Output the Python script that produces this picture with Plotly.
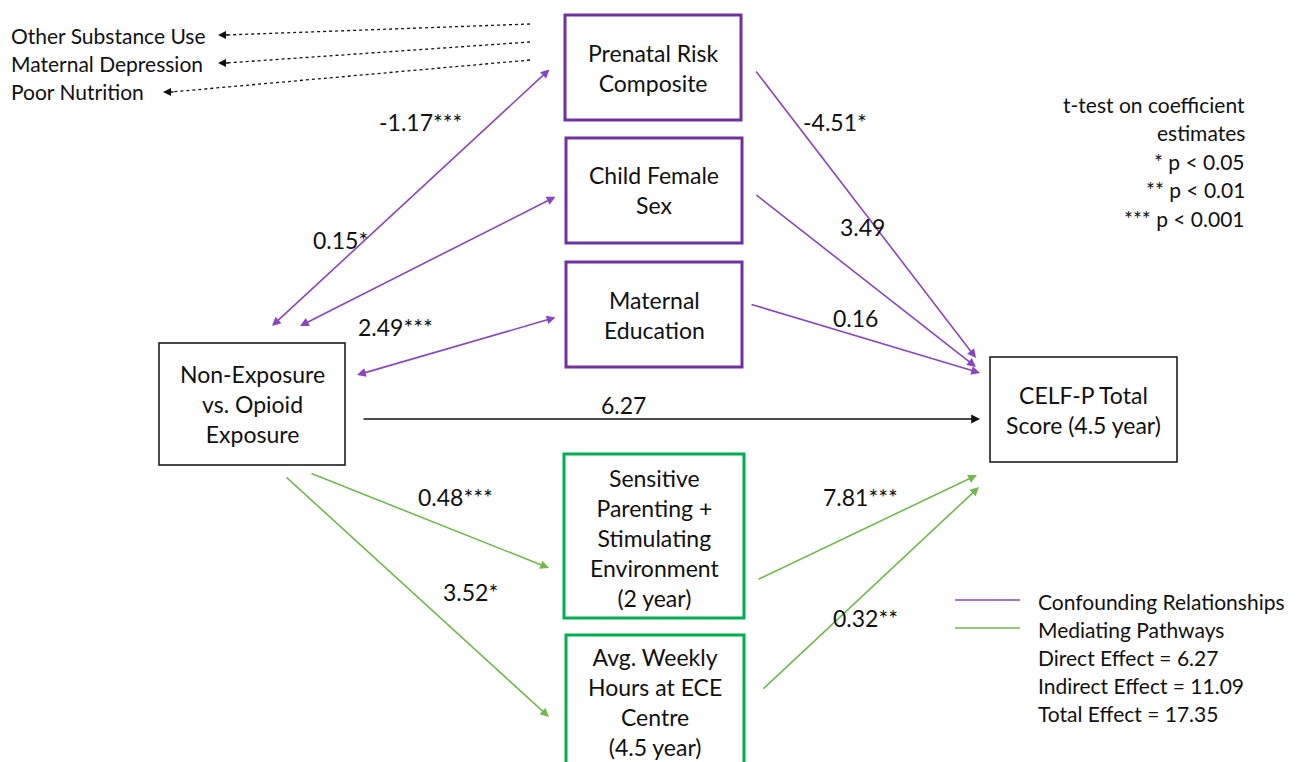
import plotly.graph_objects as go

# ---------------- data ----------------
node_names = ["exposure", "prenatal", "female", "mated", "celf", "parenting", "ece"]
node_labels = [
    "Non-Exposure<br>vs. Opioid<br>Exposure",
    "Prenatal Risk<br>Composite",
    "Child Female<br>Sex",
    "Maternal<br>Education",
    "CELF-P Total<br>Score (4.5 year)",
    "Sensitive<br>Parenting +<br>Stimulating<br>Environment<br>(2 year)",
    "Avg. Weekly<br>Hours at ECE<br>Centre<br>(4.5 year)",
]
node_roles = ["main", "confounder", "confounder", "confounder", "main", "mediator", "mediator"]

path_from = ["prenatal", "female", "mated", "prenatal", "female", "mated", "exposure",
             "exposure", "exposure", "parenting", "ece"]
path_to = ["exposure", "exposure", "exposure", "celf", "celf", "celf", "celf",
           "parenting", "ece", "celf", "celf"]
path_coef = ["-1.17***", "0.15*", "2.49***", "-4.51*", "3.49", "0.16", "6.27",
             "0.48***", "3.52*", "7.81***", "0.32**"]
path_type = ["confound", "confound", "confound", "confound", "confound", "confound", "direct",
             "mediate", "mediate", "mediate", "mediate"]

other_risks = ["Other Substance Use", "Maternal Depression", "Poor Nutrition"]

sig_title = ["t-test on coefficient", "estimates"]
sig_levels = ["* p < 0.05", "** p < 0.01", "*** p < 0.001"]

legend_lines = ["Confounding Relationships", "Mediating Pathways"]
effect_names = ["Direct Effect", "Indirect Effect", "Total Effect"]
effect_values = [6.27, 11.09, 17.35]

# ---------------- layout (pixel positions in the page) ----------------
W, H = 1301, 762
OFF = 8  # default page body margin
boxes = {  # x0, y0, x1, y1
    "exposure": (159, 343, 345, 465),
    "prenatal": (565, 15, 741, 120),
    "female": (566, 138, 742, 243),
    "mated": (566, 262, 742, 367),
    "celf": (990, 357, 1177, 462),
    "parenting": (564, 454, 744, 618),
    "ece": (566, 635, 744, 780),
}
text_cy = {"exposure": 404, "prenatal": 68, "female": 190, "mated": 315, "celf": 410,
           "parenting": 538, "ece": 702}
ends = [  # (start x,y) -> (end x,y)
    ((551, 68), (272, 326)),
    ((557, 196), (300, 326)),
    ((557, 317), (357, 375)),
    ((755, 70), (976, 358)),
    ((755, 194), (976, 367)),
    ((750, 304), (980, 373)),
    ((362, 419), (980, 419)),
    ((310, 473), (549, 568)),
    ((285, 476), (549, 717)),
    ((757, 580), (977, 475)),
    ((762, 690), (979, 487)),
]
bidir = [True, True, True, False, False, False, False, False, False, False, False]
label_pos = [(420, 122), (340, 240), (395, 327), (835, 122), (862, 227), (855, 318),
             (623, 405), (455, 497), (470, 592), (860, 497), (865, 618)]
dash_ends = [((530, 24), (218, 35)), ((530, 42), (218, 63)), ((530, 60), (163, 92))]
risk_text_pos = [(9, 35), (9, 63), (9, 91)]

PURPLE_BOX = "#7030A0"
PURPLE = "#8A45C0"
GREEN_BOX = "#00B050"
GREEN = "#72B84E"
BLACK = "#111111"
FONT = "Lato"
FS = 23
FS_SMALL = 21

role_color = {"main": BLACK, "confounder": PURPLE_BOX, "mediator": GREEN_BOX}
role_width = {"main": 1.5, "confounder": 3, "mediator": 3}
type_color = {"confound": PURPLE, "direct": BLACK, "mediate": GREEN}

fig = go.Figure()
shapes = []
annotations = []

for name, label, role in zip(node_names, node_labels, node_roles):
    x0, y0, x1, y1 = boxes[name]
    shapes.append(dict(type="rect", xref="x", yref="y", x0=x0, y0=y0, x1=x1, y1=y1,
                       line=dict(color=role_color[role], width=role_width[role]),
                       fillcolor="white", layer="below"))
    annotations.append(dict(x=(x0 + x1) / 2, y=text_cy[name], xref="x", yref="y", text=label,
                            showarrow=False, font=dict(family=FONT, size=FS, color=BLACK),
                            align="center"))

for i in range(len(path_from)):
    (sx, sy), (ex, ey) = ends[i]
    col = type_color[path_type[i]]
    annotations.append(dict(x=ex, y=ey, ax=sx, ay=sy, xref="x", yref="y", axref="x", ayref="y",
                            showarrow=True, arrowhead=2, arrowsize=1.1, arrowwidth=1.6,
                            arrowcolor=col, arrowside="end+start" if bidir[i] else "end",
                            startarrowhead=2, startarrowsize=1.1, text=""))
    lx, ly = label_pos[i]
    annotations.append(dict(x=lx, y=ly, xref="x", yref="y", text=path_coef[i], showarrow=False,
                            font=dict(family=FONT, size=FS, color=BLACK)))

for (s, e), txt, (tx, ty) in zip(dash_ends, other_risks, risk_text_pos):
    shapes.append(dict(type="line", xref="x", yref="y", x0=s[0], y0=s[1], x1=e[0] + 8, y1=e[1],
                       line=dict(color=BLACK, width=1.3, dash="dot")))
    annotations.append(dict(x=e[0], y=e[1], ax=e[0] + 12, ay=e[1], xref="x", yref="y",
                            axref="x", ayref="y", showarrow=True, arrowhead=2, arrowsize=1,
                            arrowwidth=1.6, arrowcolor=BLACK, text=""))
    annotations.append(dict(x=tx, y=ty, xref="x", yref="y", text=txt, showarrow=False,
                            xanchor="left", font=dict(family=FONT, size=FS_SMALL, color=BLACK)))

sig_lines = sig_title + sig_levels
for k, t in enumerate(sig_lines):
    annotations.append(dict(x=1247, y=104 + k * 28.5, xref="x", yref="y", text=t, showarrow=False,
                            xanchor="right", font=dict(family=FONT, size=FS_SMALL, color=BLACK)))

for k, (t, c) in enumerate(zip(legend_lines, [PURPLE, GREEN])):
    y = 601 + k * 28
    shapes.append(dict(type="line", xref="x", yref="y", x0=955, x1=1020, y0=y - 1, y1=y - 1,
                       line=dict(color=c, width=1.6)))
    annotations.append(dict(x=1036, y=y, xref="x", yref="y", text=t, showarrow=False,
                            xanchor="left", font=dict(family=FONT, size=FS_SMALL, color=BLACK)))
for k, (n, v) in enumerate(zip(effect_names, effect_values)):
    annotations.append(dict(x=1036, y=657 + k * 28, xref="x", yref="y",
                            text=f"{n} = {v:.2f}", showarrow=False, xanchor="left",
                            font=dict(family=FONT, size=FS_SMALL, color=BLACK)))

fig.update_layout(
    width=W, height=H, margin=dict(l=0, r=0, t=0, b=0),
    paper_bgcolor="white", plot_bgcolor="white", showlegend=False,
    xaxis=dict(range=[OFF, W + OFF], visible=False, fixedrange=True),
    yaxis=dict(range=[H + OFF, OFF], visible=False, fixedrange=True),
    shapes=shapes, annotations=annotations,
)
fig.write_html("out.html")
